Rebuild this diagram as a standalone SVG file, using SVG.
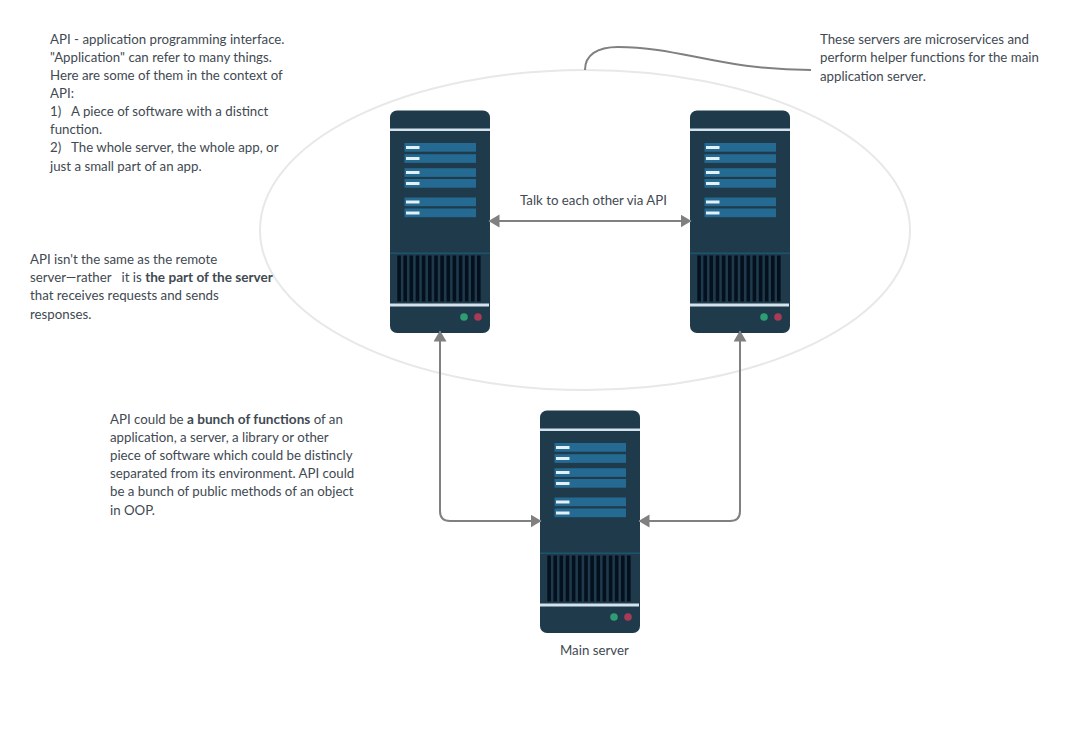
<svg xmlns="http://www.w3.org/2000/svg" width="1080" height="750" viewBox="0 0 1080 750">
<style>
text{font-family:Lato,"Open Sans",sans-serif;font-size:13.27px;fill:#3f4a52}
.b{font-weight:700;font-size:13.6px}
.c{fill:none;stroke:#808080;stroke-width:2}
.bar{fill:#246a92}
.mark{fill:#e3f0f7}
.g{fill:#04101e}
</style>
<defs>
<marker id="a" markerWidth="12" markerHeight="14" refX="10.500" refY="6.500" orient="auto-start-reverse" markerUnits="userSpaceOnUse"><path d="M0 0L11 6.500L0 13Z" fill="#808080"/></marker>
<g id="srv">
<rect width="100" height="222.500" rx="7" fill="#1f3b4b"/>
<rect y="18" width="100" height="2.500" fill="#d5e3ee"/>
<g>
<rect class="bar" x="14.500" y="32.500" width="71.500" height="8.700"/><rect class="mark" x="16" y="35.500" width="13.500" height="3"/>
<rect class="bar" x="14.500" y="43.700" width="71.500" height="8.700"/><rect class="mark" x="16" y="46.500" width="13.500" height="3"/>
<rect class="bar" x="14.500" y="57.700" width="71.500" height="8.700"/><rect class="mark" x="16" y="60.500" width="13.500" height="3"/>
<rect class="bar" x="14.500" y="68.500" width="71.500" height="8.700"/><rect class="mark" x="16" y="71.500" width="13.500" height="3"/>
<rect class="bar" x="14.500" y="87" width="71.500" height="8.700"/><rect class="mark" x="16" y="90" width="13.500" height="3"/>
<rect class="bar" x="14.500" y="98" width="71.500" height="8.700"/><rect class="mark" x="16" y="101" width="13.500" height="3"/>
</g>
<rect y="142" width="100" height="1.500" fill="#1c5470"/>
<path class="g" d="M7.300 145h3.600v46h-3.600zM13.400 145h3.600v46h-3.600zM19.500 145h3.600v46h-3.600zM25.700 145h3.600v46h-3.600zM31.800 145h3.600v46h-3.600zM38 145h3.600v46h-3.600zM44.200 145h3.600v46h-3.600zM50.300 145h3.600v46h-3.600zM56.500 145h3.600v46h-3.600zM62.600 145h3.600v46h-3.600zM68.800 145h3.600v46h-3.600zM74.900 145h3.600v46h-3.600zM81 145h3.600v46h-3.600zM87 145h3.600v46h-3.600z"/>
<rect y="193" width="99" height="3" fill="#d5e3ee"/>
<circle cx="74" cy="206.500" r="3.800" fill="#2f9d73"/>
<circle cx="88" cy="206.500" r="3.800" fill="#a83a55"/>
</g>
</defs>
<ellipse cx="585" cy="230" rx="325" ry="160" fill="none" stroke="#e8e8e8" stroke-width="2"/>
<g id="server-left"><use href="#srv" x="390" y="110.500"/></g>
<g id="server-right"><use href="#srv" x="690" y="110.500"/></g>
<g id="server-main"><use href="#srv" x="540" y="410.500"/></g>
<g id="connectors">
<path class="c" d="M489 221H691" marker-start="url(#a)" marker-end="url(#a)"/>
<path class="c" d="M440 331V511Q440 521 450 521H541" marker-start="url(#a)" marker-end="url(#a)"/>
<path class="c" d="M740 331V511Q740 521 730 521H639" marker-start="url(#a)" marker-end="url(#a)"/>
<path class="c" d="M585 70C585 55 597 47 618 47C680 47 720 70 811 70"/>
</g>
<g id="labels">
<text x="50" y="44">API - application programming interface.</text>
<text x="50" y="62">"Application" can refer to many things.</text>
<text x="50" y="80">Here are some of them in the context of</text>
<text x="50" y="98">API:</text>
<text x="50" y="116" xml:space="preserve">1)   A piece of software with a distinct</text>
<text x="50" y="134">function.</text>
<text x="50" y="152" xml:space="preserve">2)   The whole server, the whole app, or</text>
<text x="50" y="171">just a small part of an app.</text>
<text x="30" y="264">API isn't the same as the remote</text>
<text x="30" y="282" xml:space="preserve">server—rather   it is <tspan class="b">the part of the server</tspan></text>
<text x="30" y="300">that receives requests and sends</text>
<text x="30" y="319">responses.</text>
<text x="110" y="424">API could be <tspan class="b">a bunch of functions</tspan> of an</text>
<text x="110" y="442">application, a server, a library or other</text>
<text x="110" y="460">piece of software which could be distincly</text>
<text x="110" y="478">separated from its environment. API could</text>
<text x="110" y="496">be a bunch of public methods of an object</text>
<text x="110" y="515">in OOP.</text>
<text x="820" y="44">These servers are microservices and</text>
<text x="820" y="62">perform helper functions for the main</text>
<text x="820" y="81">application server.</text>
<text x="520" y="205">Talk to each other via API</text>
<text x="560" y="655">Main server</text>
</g>
</svg>
